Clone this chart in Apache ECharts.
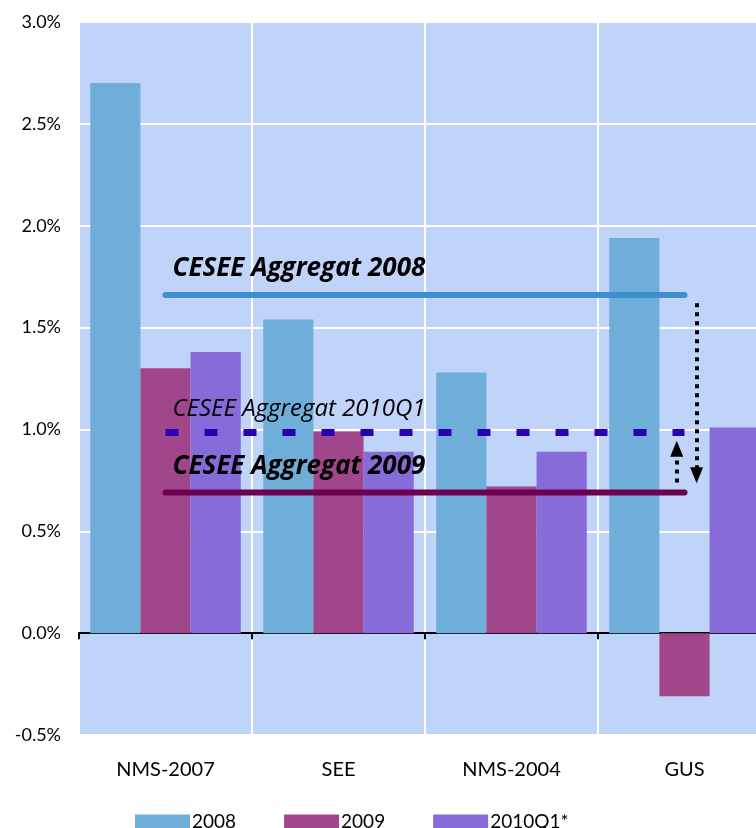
<!DOCTYPE html>
<html><head><meta charset="utf-8">
<script src="https://cdn.jsdelivr.net/npm/echarts@6/dist/echarts.min.js"></script>
<style>html,body{margin:0;padding:0;background:#fff}#c{width:756px;height:828px}</style>
</head><body><div id="c"></div>
<script>
var categories = ['NMS-2007', 'SEE', 'NMS-2004', 'GUS'];
var seriesNames = ['2008', '2009', '2010Q1*'];
var v2008 = [2.70, 1.54, 1.28, 1.94];
var v2009 = [1.30, 0.99, 0.72, -0.31];
var v2010 = [1.38, 0.89, 0.89, 1.01];
var aggNames = ['CESEE Aggregat 2008', 'CESEE Aggregat 2010Q1', 'CESEE Aggregat 2009'];
var aggValues = [1.66, 0.985, 0.69];
var yTicks = { min: -0.5, max: 3.0, interval: 0.5 };
// arrows: [xPos (category units), from, to]
var arrowDown = [3.57, 1.62, 0.775];
var arrowUp = [3.455, 0.74, 0.905];

var FONT = 'Lato, "Open Sans", sans-serif';
var LFONT = '"Open Sans", Lato, sans-serif';
var chart = echarts.init(document.getElementById('c'));

function aggLine(idx, color, width, type, fontStyle, fontWeight, fontSize, offY) {
  var v = aggValues[idx];
  return {
    type: 'line', xAxisIndex: 1, yAxisIndex: 0, z: 5,
    symbol: 'none', silent: true, animation: false,
    lineStyle: { color: color, width: width, type: type, cap: type === 'solid' ? 'round' : 'butt' },
    data: [[0.5, v], [3.5, v]],
    markPoint: {
      silent: true, animation: false, symbol: 'circle', symbolSize: 1,
      itemStyle: { color: 'rgba(0,0,0,0)' },
      data: [{ coord: [0.5, v],
        label: { show: true, position: 'top', align: 'left', distance: 0, offset: [7, offY],
          formatter: aggNames[idx], color: '#000', fontFamily: LFONT, fontSize: fontSize,
          fontStyle: fontStyle, fontWeight: fontWeight } }]
    }
  };
}

var s08 = aggLine(0, '#3f8fcf', 6, 'solid', 'italic', 'bold', 26, -13);
s08.markLine = {
  silent: true, animation: false, z: 6,
  symbol: ['none', 'triangle'], symbolSize: [13, 16],
  label: { show: false },
  lineStyle: { color: '#000', width: 4, type: [4, 5] },
  data: [
    [{ coord: [arrowDown[0], arrowDown[1]] }, { coord: [arrowDown[0], arrowDown[2]] }],
    [{ coord: [arrowUp[0], arrowUp[1]] }, { coord: [arrowUp[0], arrowUp[2]] }]
  ]
};

chart.setOption({
  animation: false,
  textStyle: { fontFamily: FONT },
  grid: { left: 79, right: -15, top: 22, bottom: 93, show: true, backgroundColor: '#c0d3f8', borderWidth: 0,
    containLabel: false, outerBoundsMode: 'none' },
  legend: {
    top: 807, left: 130, itemWidth: 55, itemHeight: 14, itemGap: 48, icon: 'rect',
    data: seriesNames,
    textStyle: { fontFamily: FONT, fontSize: 19, color: '#000', padding: [0, 0, 0, -3] }
  },
  xAxis: [
    { type: 'category', data: categories,
      axisLine: { onZero: true, lineStyle: { color: '#000', width: 2 } },
      axisTick: { show: true, length: 6, lineStyle: { color: '#000', width: 2 } },
      axisLabel: { show: false },
      splitLine: { show: true, lineStyle: { color: '#fff', width: 2 } } },
    { type: 'value', min: 0, max: 4, show: false },
    { type: 'category', data: categories, position: 'bottom',
      axisLine: { show: false, onZero: false }, axisTick: { show: false }, splitLine: { show: false },
      axisLabel: { margin: 25, color: '#000', fontSize: 20, fontFamily: FONT } }
  ],
  yAxis: {
    type: 'value', min: yTicks.min, max: yTicks.max, interval: yTicks.interval,
    axisLine: { show: false }, axisTick: { show: false },
    axisLabel: { margin: 18, color: '#000', fontSize: 18, fontFamily: FONT,
      formatter: function (v) { return v.toFixed(1) + '%'; } },
    splitLine: { show: true, lineStyle: { color: '#fff', width: 2 } }
  },
  series: [
    { name: seriesNames[0], type: 'bar', data: v2008, itemStyle: { color: '#6faed9' }, barGap: '0%', barCategoryGap: '13%' },
    { name: seriesNames[1], type: 'bar', data: v2009, itemStyle: { color: '#a1468b' } },
    { name: seriesNames[2], type: 'bar', data: v2010, itemStyle: { color: '#876bd9' } },
    s08,
    aggLine(1, '#2b00b0', 7, [13, 26], 'italic', 'normal', 24, -11),
    aggLine(2, '#6b0050', 6, 'solid', 'italic', 'bold', 26, -12)
  ]
});
</script></body></html>
